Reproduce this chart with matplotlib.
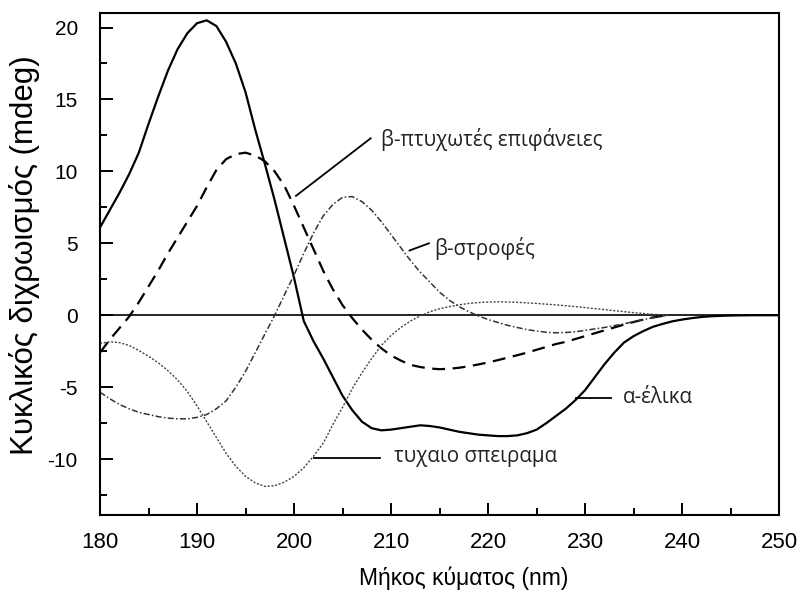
import matplotlib.pyplot as plt

plt.rcParams['axes.unicode_minus'] = False

# --- Wavelength grids (nm) ---
wl_helix = list(range(180, 251))
wl_other = list(range(180, 239)) + [238.5]

# --- CD signal (mdeg) for each secondary structure ---
helix = [6.1, 7.3, 8.5, 9.8, 11.3, 13.3, 15.2, 17.0, 18.5, 19.6,
         20.3, 20.5, 20.1, 19.0, 17.5, 15.5, 12.9, 10.5, 8.0, 5.3,
         2.6, -0.4, -1.8, -3.0, -4.3, -5.6, -6.6, -7.4, -7.85, -8.0,
         -7.95, -7.85, -7.75, -7.65, -7.7, -7.8, -7.95, -8.1, -8.2, -8.3,
         -8.35, -8.4, -8.4, -8.35, -8.2, -7.95, -7.5, -7.0, -6.5, -5.9,
         -5.2, -4.3, -3.4, -2.6, -1.9, -1.45, -1.1, -0.8, -0.6, -0.42,
         -0.3, -0.2, -0.12, -0.07, -0.04, -0.02, -0.01, 0, 0, 0, 0]

sheet = [-2.6, -1.7, -0.9, -0.1, 0.9, 2.0, 3.1, 4.3, 5.4, 6.5,
         7.6, 8.9, 10.1, 10.85, 11.2, 11.3, 11.1, 10.7, 10.0, 9.0,
         7.6, 6.1, 4.6, 3.1, 1.8, 0.7, -0.2, -1.0, -1.7, -2.3,
         -2.8, -3.15, -3.45, -3.6, -3.7, -3.75, -3.72, -3.65, -3.55, -3.42,
         -3.28, -3.12, -2.95, -2.78, -2.6, -2.4, -2.2, -2.0, -1.85, -1.65,
         -1.45, -1.25, -1.05, -0.85, -0.65, -0.47, -0.3, -0.15, -0.04, 0]

turn = [-5.35, -5.8, -6.2, -6.5, -6.75, -6.9, -7.05, -7.15, -7.2, -7.2,
        -7.1, -6.9, -6.5, -5.95, -5.0, -3.9, -2.6, -1.3, 0.0, 1.4,
        2.8, 4.3, 5.7, 6.9, 7.7, 8.2, 8.25, 7.9, 7.3, 6.5,
        5.6, 4.7, 3.8, 3.0, 2.3, 1.6, 1.05, 0.6, 0.25, -0.05,
        -0.3, -0.5, -0.7, -0.85, -1.0, -1.1, -1.18, -1.22, -1.2, -1.15,
        -1.05, -0.95, -0.85, -0.72, -0.6, -0.45, -0.3, -0.17, -0.05, 0]

coil = [-1.95, -1.85, -1.9, -2.1, -2.45, -2.85, -3.3, -3.85, -4.5, -5.3,
        -6.3, -7.4, -8.5, -9.6, -10.5, -11.2, -11.65, -11.9, -11.85, -11.6,
        -11.2, -10.6, -9.8, -8.9, -7.6, -6.4, -5.1, -4.0, -3.0, -2.1,
        -1.4, -0.85, -0.4, -0.05, 0.25, 0.45, 0.6, 0.72, 0.82, 0.88,
        0.92, 0.93, 0.92, 0.9, 0.86, 0.82, 0.77, 0.72, 0.66, 0.6,
        0.53, 0.46, 0.39, 0.32, 0.25, 0.18, 0.12, 0.06, 0.02, 0]

fig = plt.figure(figsize=(8, 5.97), dpi=100)
ax = fig.add_axes([0.125, 0.137, 0.849, 0.841])

ax.axhline(0, color='black', lw=1.2, zorder=1)
ax.plot(wl_helix, helix, color='black', lw=1.6)
ax.plot(wl_other, sheet, color='black', lw=1.6, dashes=(5.8, 3.4))
ax.plot(wl_other, turn, color='#333333', lw=1.1, linestyle=(0, (4, 1.5, 1, 1.5)))
ax.plot(wl_other, coil, color='#444444', lw=1.0, linestyle=(0, (1.5, 1.2)))

# --- Curve labels with leader lines ---
ann_font = dict(fontsize=14.8, family=['Open Sans', 'DejaVu Sans'],
                color='#222222', va='center', ha='left')
ax.plot([200.2, 207.9], [8.3, 12.3], color='black', lw=1.3)
ax.text(209.0, 12.2, 'β-πτυχωτές επιφάνειες', **ann_font)
ax.plot([211.9, 213.9], [4.5, 5.0], color='black', lw=1.3)
ax.text(214.4, 4.65, 'β-στροφές', **ann_font)
ax.plot([229.1, 232.7], [-5.72, -5.72], color='black', lw=1.3)
ax.text(233.9, -5.75, 'α-έλικα', **ann_font)
ax.plot([202.1, 208.9], [-9.9, -9.9], color='black', lw=1.3)
ax.text(210.3, -9.85, 'τυχαιο σπειραμα', **ann_font)

# --- Axes ---
ax.set_xlim(180, 250)
ax.set_ylim(-13.9, 21.0)
ax.set_xticks(range(180, 251, 10))
ax.set_xticks(range(185, 250, 10), minor=True)
ax.set_yticks(range(-10, 21, 5))
ax.set_yticks([-12.5, -7.5, -2.5, 2.5, 7.5, 12.5, 17.5], minor=True)

ax.tick_params(which='both', direction='in', width=1.4, top=False, right=False)
ax.tick_params(which='major', length=9)
ax.tick_params(which='minor', length=5)
ax.tick_params(axis='y', labelsize=15, pad=16)
ax.tick_params(axis='x', labelsize=16, pad=12)
for lab in ax.get_xticklabels() + ax.get_yticklabels():
    lab.set_family(['Liberation Sans', 'DejaVu Sans'])

for sp in ax.spines.values():
    sp.set_linewidth(1.5)

ax.set_xlabel('Μήκος κύματος (nm)', fontsize=16.5,
              family=['Liberation Sans', 'DejaVu Sans'])
ax.xaxis.label.set_va('center')
ax.xaxis.set_label_coords(0.535, -0.126)
ax.set_ylabel('Κυκλικός διχρωισμός (mdeg)', fontsize=22.5,
              family=['Liberation Sans', 'DejaVu Sans'])
ax.yaxis.label.set_va('center')
ax.yaxis.label.set_ha('center')
ax.yaxis.set_label_coords(-0.111, 0.518)

fig.savefig('out.png', dpi=100)
